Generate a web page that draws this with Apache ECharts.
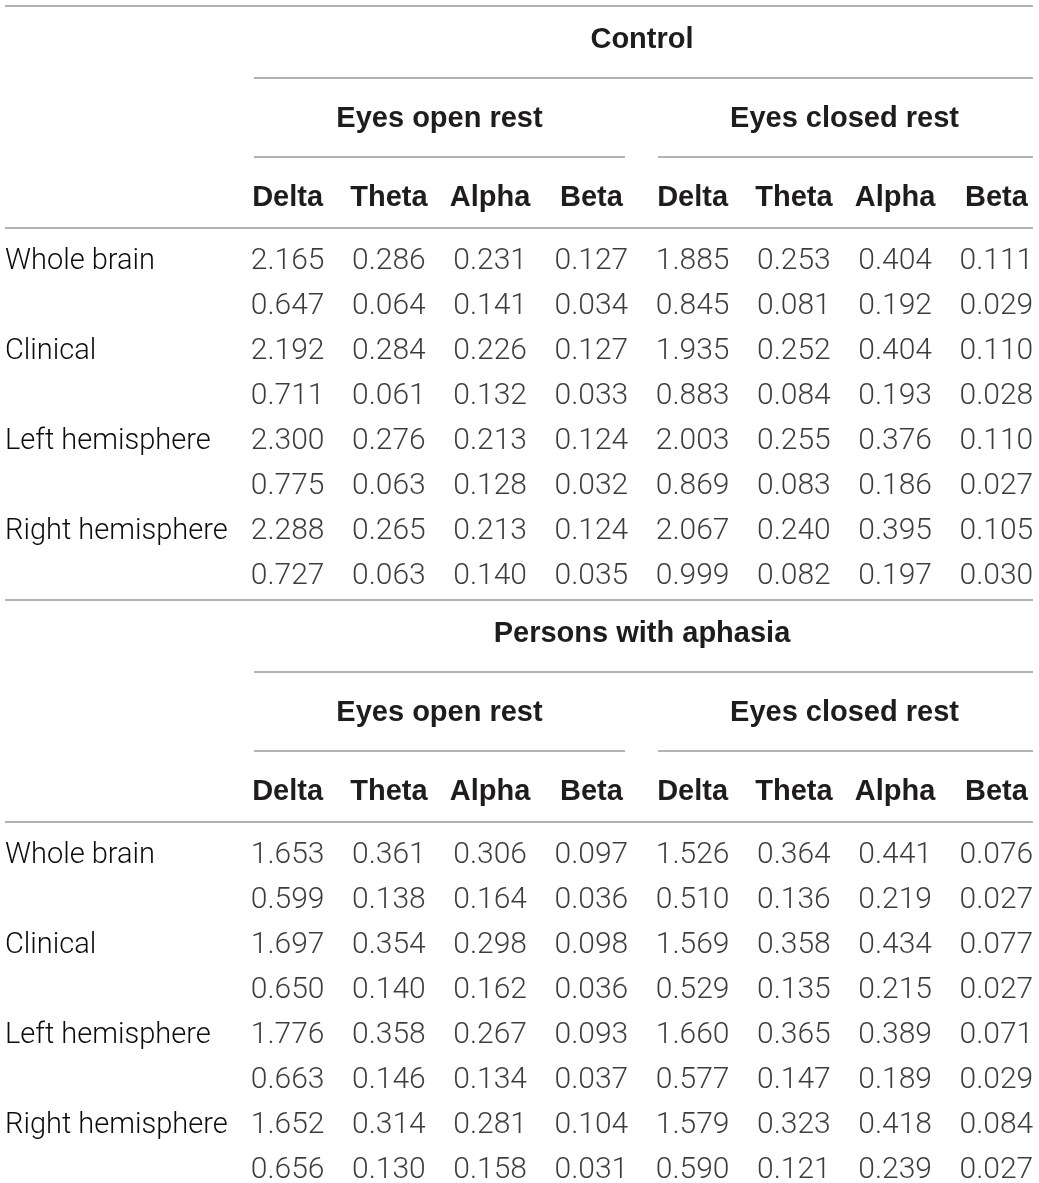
<!DOCTYPE html>
<html>
<head>
<meta charset="utf-8">
<script src="https://cdn.jsdelivr.net/npm/echarts@6/dist/echarts.min.js"></script>
<style>
    html, body { margin: 0; padding: 0; background: #fff; }
    #eeg_table { width: 1039px; height: 1183px; }
</style>
</head>
<body>
<div id="eeg_table"></div>
<script>
// Table data
var bands = ['Delta', 'Theta', 'Alpha', 'Beta', 'Delta', 'Theta', 'Alpha', 'Beta'];
var conditions = ['Eyes open rest', 'Eyes closed rest'];
var groups = ['Control', 'Persons with aphasia'];
var regions = ['Whole brain', 'Clinical', 'Left hemisphere', 'Right hemisphere'];

// two rows per region (first row labelled, second row unlabelled)
var controlValues = [
    [2.165, 0.286, 0.231, 0.127, 1.885, 0.253, 0.404, 0.111],
    [0.647, 0.064, 0.141, 0.034, 0.845, 0.081, 0.192, 0.029],
    [2.192, 0.284, 0.226, 0.127, 1.935, 0.252, 0.404, 0.110],
    [0.711, 0.061, 0.132, 0.033, 0.883, 0.084, 0.193, 0.028],
    [2.300, 0.276, 0.213, 0.124, 2.003, 0.255, 0.376, 0.110],
    [0.775, 0.063, 0.128, 0.032, 0.869, 0.083, 0.186, 0.027],
    [2.288, 0.265, 0.213, 0.124, 2.067, 0.240, 0.395, 0.105],
    [0.727, 0.063, 0.140, 0.035, 0.999, 0.082, 0.197, 0.030]
];
var aphasiaValues = [
    [1.653, 0.361, 0.306, 0.097, 1.526, 0.364, 0.441, 0.076],
    [0.599, 0.138, 0.164, 0.036, 0.510, 0.136, 0.219, 0.027],
    [1.697, 0.354, 0.298, 0.098, 1.569, 0.358, 0.434, 0.077],
    [0.650, 0.140, 0.162, 0.036, 0.529, 0.135, 0.215, 0.027],
    [1.776, 0.358, 0.267, 0.093, 1.660, 0.365, 0.389, 0.071],
    [0.663, 0.146, 0.134, 0.037, 0.577, 0.147, 0.189, 0.029],
    [1.652, 0.314, 0.281, 0.104, 1.579, 0.323, 0.418, 0.084],
    [0.656, 0.130, 0.158, 0.031, 0.590, 0.121, 0.239, 0.027]
];

var TEXT = '#1f1c1d';
var BODY_TEXT = '#0d0b0c';
var RULE = '#9a9a9a';
var BODY_FONT = 'Roboto, "Liberation Sans", sans-serif';
var HEAD_FONT = '"Liberation Sans", Arial, sans-serif';

var rowLabels = [];
regions.forEach(function(r) { rowLabels.push(r, ''); });
var rowKeys = rowLabels.map(function(l, i) { return 'r' + i; });

var toCells = function(values) {
    var cells = [];
    values.forEach(function(row, ri) {
        row.forEach(function(v, ci) { cells.push([ci, ri, v]); });
    });
    return cells;
};

var blockTops = [239, 833];
var blockValues = [controlValues, aphasiaValues];

var grids = [], xAxes = [], yAxes = [], series = [];

var headLabel = function(margin) {
    return {
        margin: margin, verticalAlign: 'middle', interval: 0,
        color: TEXT, fontFamily: HEAD_FONT, fontWeight: 'bold', fontSize: 29
    };
};

blockTops.forEach(function(top, b) {
    grids.push({ left: 237, width: 810, top: top, height: 360, outerBoundsMode: 'none' });

    var hiddenAxis = {
        axisLine: { show: false },
        axisTick: { show: false },
        splitLine: { show: false }
    };

    // band headers
    xAxes.push(Object.assign({
        gridIndex: b, type: 'category', position: 'top', data: bands,
        axisLabel: headLabel(41)
    }, hiddenAxis));

    // condition headers
    xAxes.push(Object.assign({
        gridIndex: b, type: 'category', position: 'top', data: conditions,
        axisLabel: headLabel(120)
    }, hiddenAxis));

    // group header
    xAxes.push(Object.assign({
        gridIndex: b, type: 'category', position: 'top', data: [groups[b]],
        axisLabel: headLabel(199)
    }, hiddenAxis));

    yAxes.push(Object.assign({
        gridIndex: b, type: 'category', inverse: true, data: rowKeys,
        axisLabel: {
            margin: 232, align: 'left', verticalAlign: 'middle', interval: 0,
            color: BODY_TEXT, fontFamily: BODY_FONT, fontWeight: 300, fontSize: 29,
            formatter: function(v, i) { return rowLabels[i]; }
        }
    }, hiddenAxis));

    series.push({
        type: 'scatter',
        xAxisIndex: b * 3,
        yAxisIndex: b,
        symbolSize: 1,
        itemStyle: { color: 'rgba(0,0,0,0)' },
        silent: true,
        label: {
            show: true,
            position: 'inside',
            color: BODY_TEXT,
            fontFamily: BODY_FONT,
            fontWeight: 300,
            fontSize: 30,
            formatter: function(p) { return p.value[2].toFixed(3); }
        },
        data: toCells(blockValues[b])
    });
});

// Table rules
var rule = function(x1, x2, y) {
    return {
        type: 'line', silent: true,
        shape: { x1: x1, y1: y, x2: x2, y2: y },
        style: { stroke: RULE, lineWidth: 1.5 }
    };
};
var rules = [rule(5, 1033, 6), rule(5, 1033, 600)];
[0, 594].forEach(function(dy) {
    rules.push(rule(254, 1033, 78 + dy));
    rules.push(rule(254, 625, 157 + dy));
    rules.push(rule(658, 1033, 157 + dy));
    rules.push(rule(5, 1033, 228 + dy));
});

var chart = echarts.init(document.getElementById('eeg_table'));
chart.setOption({
    animation: false,
    grid: grids,
    xAxis: xAxes,
    yAxis: yAxes,
    graphic: rules,
    series: series
});
</script>
</body>
</html>
